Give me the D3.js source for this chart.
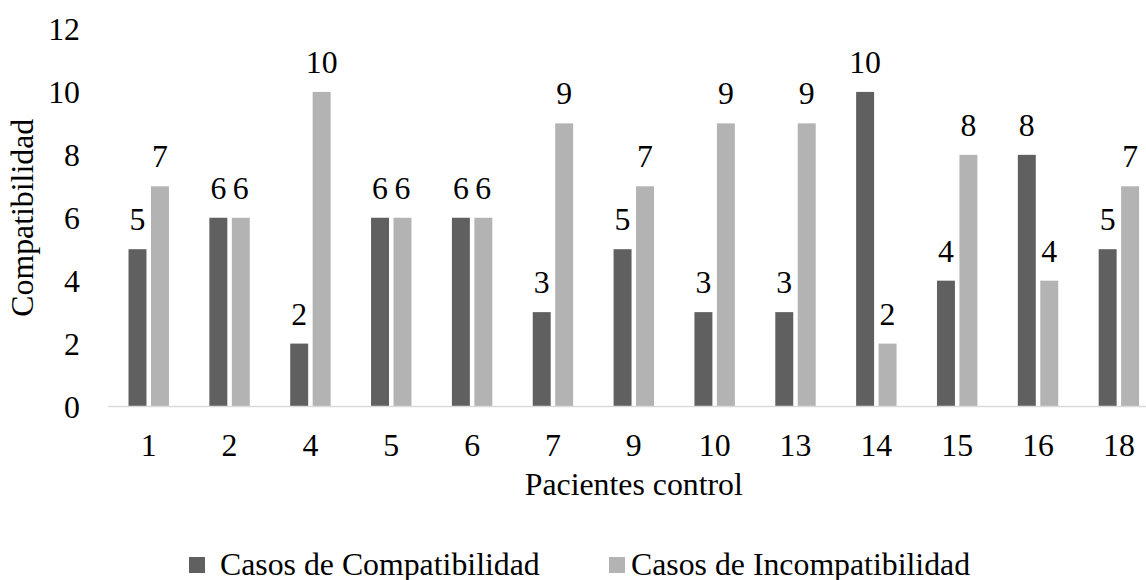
<!DOCTYPE html>
<html>
<head>
<meta charset="utf-8">
<script src="https://cdn.jsdelivr.net/npm/d3@7"></script>
<style>
  html, body { margin: 0; padding: 0; background: #fff; }
</style>
</head>
<body>
<svg id="chart" width="1146" height="580"></svg>
<script>
// Patient IDs and case counts per patient
const categories = ["1", "2", "4", "5", "6", "7", "9", "10", "13", "14", "15", "16", "18"];
const compatibilidad = [5, 6, 2, 6, 6, 3, 5, 3, 3, 10, 4, 8, 5];
const incompatibilidad = [7, 6, 10, 6, 6, 9, 7, 9, 9, 2, 8, 4, 7];
const seriesNames = ["Casos de Compatibilidad", "Casos de Incompatibilidad"];
const seriesColors = ["#606060", "#b3b3b3"];
const yTicks = [0, 2, 4, 6, 8, 10, 12];

const svg = d3.select("#chart");
const fontSize = 31.8;
const serif = "\"Liberation Serif\"";

const plot = { left: 108.3, right: 1159.3, top: 29, bottom: 406.5 };

const x = d3.scaleBand()
  .domain(categories)
  .range([plot.left, plot.right])
  .padding(0);

const inner = d3.scaleBand()
  .domain([0, 1])
  .range([x.bandwidth() * 0.25, x.bandwidth() * 0.75])
  .paddingInner(0.2)
  .paddingOuter(0);

const y = d3.scaleLinear()
  .domain([0, 12])
  .range([plot.bottom, plot.top]);

const rows = categories.map((c, i) => ({
  cat: c,
  values: [compatibilidad[i], incompatibilidad[i]]
}));

// Bars
const groups = svg.append("g").selectAll("g")
  .data(rows)
  .join("g")
  .attr("transform", d => `translate(${x(d.cat)},0)`);

groups.selectAll("rect")
  .data(d => d.values.map((v, s) => ({ v, s })))
  .join("rect")
  .attr("x", d => inner(d.s))
  .attr("width", inner.bandwidth())
  .attr("y", d => y(d.v))
  .attr("height", d => y(0) - y(d.v))
  .attr("fill", d => seriesColors[d.s]);

// Value labels
groups.selectAll("text")
  .data(d => d.values.map((v, s) => ({ v, s })))
  .join("text")
  .attr("x", d => inner(d.s) + inner.bandwidth() / 2)
  .attr("y", d => y(d.v) - 19)
  .attr("text-anchor", "middle")
  .attr("font-size", fontSize)
  .attr("font-family", serif)
  .attr("fill", "#000")
  .text(d => d.v);

// X axis baseline and category labels
const xAxis = d3.axisBottom(x).tickSize(0).tickPadding(0);
const gx = svg.append("g")
  .attr("transform", `translate(0,${plot.bottom})`)
  .call(xAxis);
gx.attr("font-family", serif).attr("font-size", fontSize);
gx.select(".domain")
  .attr("stroke", "#d9d9d9")
  .attr("stroke-width", 1.5)
  .attr("d", `M${plot.left},0H${plot.right}`);
gx.selectAll(".tick text")
  .attr("y", 49.5)
  .attr("dy", null)
  .attr("fill", "#000");

// Y axis labels (no line)
const yAxis = d3.axisLeft(y).tickValues(yTicks).tickSize(0).tickPadding(0);
const gy = svg.append("g")
  .attr("transform", `translate(80,0)`)
  .call(yAxis);
gy.attr("font-family", serif).attr("font-size", fontSize);
gy.select(".domain").remove();
gy.selectAll(".tick text")
  .attr("dy", "0.34em")
  .attr("fill", "#000");

// Axis titles
svg.append("text")
  .attr("x", (plot.left + plot.right) / 2)
  .attr("y", 495)
  .attr("text-anchor", "middle")
  .attr("font-size", fontSize)
  .attr("font-family", serif)
  .attr("fill", "#000")
  .text("Pacientes control");

svg.append("text")
  .attr("transform", `translate(33,${(plot.top + plot.bottom) / 2}) rotate(-90)`)
  .attr("text-anchor", "middle")
  .attr("font-size", fontSize)
  .attr("font-family", serif)
  .attr("fill", "#000")
  .text("Compatibilidad");

// Legend
const legendItems = [
  { sx: 189, tx: 220 },
  { sx: 609, tx: 631 }
];
const legend = svg.append("g").selectAll("g")
  .data(seriesNames)
  .join("g");
legend.append("rect")
  .attr("x", (d, i) => legendItems[i].sx)
  .attr("y", 557)
  .attr("width", 16)
  .attr("height", 16)
  .attr("fill", (d, i) => seriesColors[i]);
legend.append("text")
  .attr("x", (d, i) => legendItems[i].tx)
  .attr("y", 575)
  .attr("font-size", fontSize)
  .attr("font-family", serif)
  .attr("fill", "#000")
  .text(d => d);
</script>
</body>
</html>
